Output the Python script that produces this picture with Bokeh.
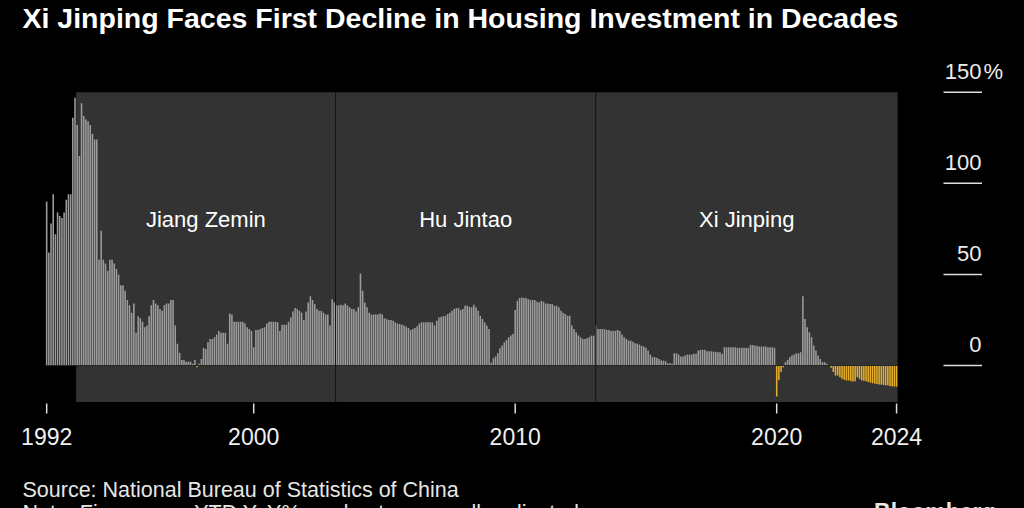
from bokeh.plotting import figure
from bokeh.models import Range1d
from bokeh.core.properties import value
from bokeh.embed import file_html
from bokeh.resources import INLINE

# ---------------- data (YTD YoY %, residential investment) ----------------
first_year, first_month = 1992, 2   # series starts Feb 1992, monthly

yoy_1990s = [
    90, 62, 78, 94, 72, 84, 82, 81, 84, 91, 94,                     # 1992 (Feb-Dec)
    94, 136, 147, 132, 115, 144, 137, 135, 134, 132, 127, 124,      # 1993
    124, 58, 74, 58, 56, 52, 58, 58, 56, 53, 50, 44,                # 1994
    44, 41, 36, 33, 29, 34, 18, 27, 26, 24, 21, 22,                 # 1995
    27, 33, 36, 34, 33, 31, 30, 33, 34, 34, 36, 36,                 # 1996
    22, 12, 7, 3, 3, 2, 2, 2, 1, 3, -1, 1,                          # 1997
    3.6, 9.6, 9, 12.7, 14.6, 14.6, 15.5, 17, 19, 18, 18, 18,        # 1998
    12, 28.6, 28, 24, 24, 24, 24, 24, 23, 21, 20, 19,               # 1999
]
yoy_2000s = [
    10, 19.5, 19.5, 20, 20.6, 21, 23, 24, 24, 24, 24, 23.7,         # 2000
    19, 22.4, 22.4, 22.4, 24, 26.4, 29.7, 31.5, 31, 30, 29, 25,     # 2001
    29.7, 34.6, 38, 36, 33.7, 31, 30, 30, 29, 28, 28, 22,           # 2002
    36.4, 34.6, 33, 33, 33.3, 33, 34, 33, 32, 31, 31, 29.7,         # 2003
    32, 50.5, 41, 34.6, 32, 29, 28, 28, 28, 28, 28.6, 28,           # 2004
    26, 25.5, 25, 25, 24.6, 23.7, 23, 22.8, 22.4, 21.9, 21.3, 20.6, # 2005
    19.5, 20, 20.6, 21.5, 23, 23.7, 23.7, 23.7, 23.7, 23.7, 23.7, 21.9,  # 2006
    24.6, 26.4, 26.8, 27, 27.3, 28.2, 29, 30, 31, 31.5, 31.5, 30.4, # 2007
    31, 32.8, 32.8, 32.2, 31.9, 33.3, 32, 30, 27.3, 25.5, 23.7, 21.9,    # 2008
    20, 1.5, 4, 5, 6.8, 9.5, 11, 12.7, 14, 15.5, 16.5, 17.3,        # 2009
]
yoy_2010s = [
    30.4, 35.5, 37, 37.3, 37, 37, 36.4, 36, 35.9, 35.9, 35, 34.6,   # 2010
    35.5, 35, 34, 34, 33.7, 33.7, 32.8, 32.8, 31.9, 30, 29, 28.2,   # 2011
    27.3, 27.3, 21.9, 20, 18.2, 16.5, 15.5, 14.6, 14.6, 15, 15.5, 16.4,  # 2012
    16.4, 21.9, 20, 20, 20, 20, 19.5, 19.5, 19, 19, 19, 19.5,       # 2013
    19, 17, 15.5, 14.6, 13.7, 13.7, 13, 12.2, 12, 11.5, 10.8, 10.4, # 2014
    9.7, 8.2, 6, 4.6, 4.6, 4.2, 3.6, 2.7, 2.7, 2.4, 1.3, 1.2,       # 2015
    0.9, 6.7, 6.7, 6, 4.9, 4.9, 5.5, 6, 6, 6, 6.4, 6.4,             # 2016
    8.2, 8.6, 8.6, 8.6, 7.8, 7.8, 7.8, 7.6, 7.5, 7.3, 7.3, 6.4,     # 2017
    10, 10, 10, 10, 10, 10, 9.7, 9.7, 9.7, 9.7, 9.7, 9.7,           # 2018
    11.3, 11.3, 10.9, 10.9, 10.4, 10.4, 10.4, 10.4, 10, 10, 10, 9.7,     # 2019
]
yoy_2020s = [
    -17, -8, -3.5, -1, 1.8, 3.1, 4.6, 5.5, 6, 6.7, 6.7, 7.3,        # 2020
    38, 25.5, 21, 18.2, 15.5, 11, 8.2, 5.5, 3.6, 1.8, 1.8, 0.9,     # 2021
    0, -1.3, -3.6, -5.5, -5.5, -6.4, -7.3, -7.8, -8.2, -8.2, -8.6, -8.8,  # 2022
    -8.6, -6.4, -7.3, -8.2, -8.4, -8.6, -9.1, -9.4, -9.7, -10, -10.2, -10.4,  # 2023
    -10.5, -10.7, -10.9, -11, -11.2, -11.5, -11.5, -11.6,          # 2024 (Jan-Aug)
]

eras = ["Jiang Zemin", "Hu Jintao", "Xi Jinping"]
era_starts = [1993.21, 2003.13, 2013.08]          # decimal years

x_tick_labels = ["1992", "2000", "2010", "2020", "2024"]
y_tick_values = [0, 50, 100, 150]
y_tick_labels = ["0", "50", "100", "150"]
y_min, y_max = -20, 150                          # shaded band extent

title_text = "Xi Jinping Faces First Decline in Housing Investment in Decades"
source_text = "Source: National Bureau of Statistics of China"
note_text = "Note: Figures are YTD YoY%, and not seasonally adjusted"
brand_text = "Bloomberg"

# ---------------- build series ----------------
values = yoy_1990s + yoy_2000s + yoy_2010s + yoy_2020s
m0 = first_month - 1
dates = [first_year + (m0 + i) / 12.0 for i in range(len(values))]
pos = [v if v >= 0 else 0 for v in values]
neg = [v if v < 0 else 0 for v in values]

# ---------------- layout / scales ----------------
W, H = 1024, 508
PX_PER_YEAR = 26.15
PX_PER_UNIT = 1.822
X_LEFT = 1992 - 44 / PX_PER_YEAR      # canvas left edge
Y_TOP = 365 / PX_PER_UNIT             # canvas top edge


def fx(px):   # canvas pixel x -> data x
    return X_LEFT + px / PX_PER_YEAR


def fy(py):   # canvas pixel y -> data y
    return Y_TOP - py / PX_PER_UNIT


p = figure(width=W, height=H, output_backend="svg", toolbar_location=None,
           x_range=Range1d(X_LEFT, X_LEFT + W / PX_PER_YEAR),
           y_range=Range1d(Y_TOP - H / PX_PER_UNIT, Y_TOP),
           x_axis_location=None, y_axis_location=None,
           min_border=0, background_fill_color="black",
           border_fill_color="black", outline_line_color=None)
p.grid.visible = False

bar_w = 0.72 / 12
half = 0.5 / 12
FONT = value("Liberation Sans")
label_lift = 21 / PX_PER_UNIT          # y-labels sit above their rule

# era shading
era_lefts = era_starts
era_rights = era_starts[1:] + [dates[-1] + half]
p.quad(left=era_lefts, right=era_rights, bottom=y_min, top=y_max,
       fill_color="#333333", line_color=None)

# bars
p.vbar(x=dates, top=pos, bottom=0, width=bar_w, fill_color="#9c9c9c", line_color=None)
p.vbar(x=dates, top=neg, bottom=0, width=bar_w, fill_color="#e6ae28", line_color=None)

# zero line
p.segment(x0=[dates[0] - half], x1=[dates[-1] + half], y0=[0], y1=[0],
          line_color="#262626", line_width=1.2)

# era dividers
p.segment(x0=era_starts[1:], x1=era_starts[1:], y0=y_min, y1=y_max,
          line_color="#141414", line_width=1)

# era labels
era_centers = [(a + b) / 2 for a, b in zip(era_lefts, era_rights)]
p.text(x=era_centers, y=[80] * 3, text=eras, text_align="center",
       text_baseline="middle", text_color="white",
       text_font=FONT, text_font_size="22px")

# x ticks
x_tick_pos = [dates[0], 2000, 2010, 2020, dates[-1]]
p.segment(x0=x_tick_pos, x1=x_tick_pos, y0=fy(403), y1=fy(413),
          line_color="#dddddd", line_width=1.5)
p.text(x=x_tick_pos, y=fy(435.5), text=x_tick_labels, text_align="center",
       text_baseline="middle", text_color="#f0f0f0",
       text_font=FONT, text_font_size="23px")

# y ticks (labels above short rules on the right)
p.segment(x0=fx(943), x1=fx(981.5), y0=y_tick_values, y1=y_tick_values,
          line_color="#dddddd", line_width=1.5)
p.text(x=fx(981), y=[v + label_lift for v in y_tick_values], text=y_tick_labels,
       text_align="right", text_baseline="middle", text_color="#ececec",
       text_font=FONT, text_font_size="22px")
p.text(x=fx(983), y=[y_tick_values[-1] + label_lift], text=["%"],
       text_align="left", text_baseline="middle", text_color="#ececec",
       text_font=FONT, text_font_size="22px")

# title, source, note, brand
p.text(x=fx(22), y=fy(17), text=[title_text], text_align="left",
       text_baseline="middle", text_color="white",
       text_font=FONT, text_font_style="bold", text_font_size="28.5px")
p.text(x=fx(22), y=fy(489), text=[source_text], text_align="left",
       text_baseline="middle", text_color="#e6e6e6",
       text_font=FONT, text_font_size="21.5px")
p.text(x=fx(22), y=fy(512), text=[note_text], text_align="left",
       text_baseline="middle", text_color="#e6e6e6",
       text_font=FONT, text_font_size="21.5px")
p.text(x=fx(995), y=fy(511), text=[brand_text], text_align="right",
       text_baseline="middle", text_color="#e6e6e6",
       text_font=FONT, text_font_style="bold", text_font_size="23px")

html = file_html(p, INLINE)
html = html.replace("</head>", "<style>html,body{background:#000000;}</style></head>", 1)
open("out.html", "w").write(html)
